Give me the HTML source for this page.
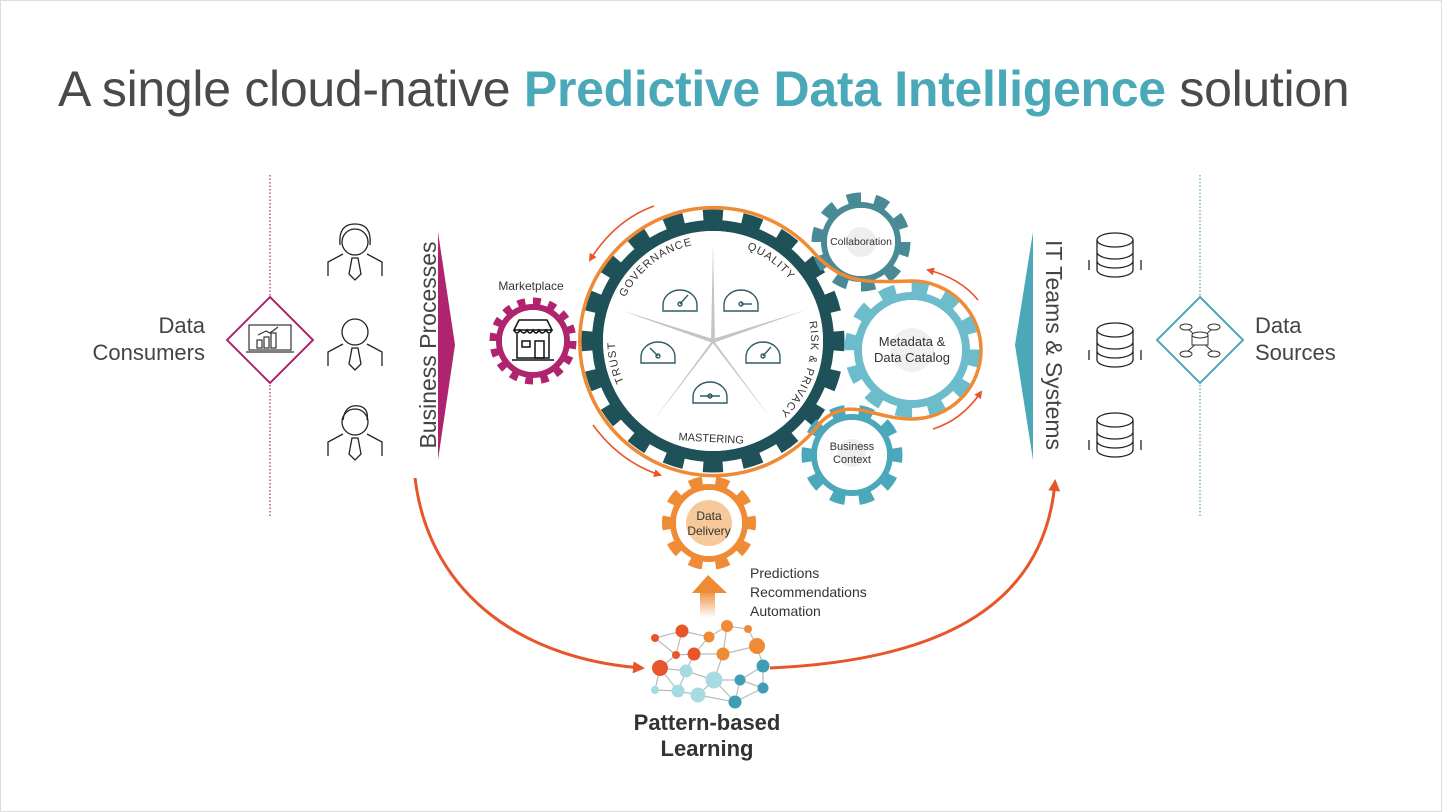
<!DOCTYPE html>
<html><head><meta charset="utf-8"><style>
html,body{margin:0;padding:0;background:#fff;}
svg{display:block;font-family:"Liberation Sans",sans-serif;}
</style></head><body>
<svg width="1442" height="812" viewBox="0 0 1442 812" xmlns="http://www.w3.org/2000/svg">
<defs>
<marker id="ah" markerWidth="8" markerHeight="8" refX="6" refY="4" orient="auto" markerUnits="userSpaceOnUse"><path d="M0,0 L8,4 L0,8 z" fill="#e8552a"/></marker>
<marker id="ah2" markerWidth="12" markerHeight="12" refX="9" refY="6" orient="auto" markerUnits="userSpaceOnUse"><path d="M0,0 L12,6 L0,12 z" fill="#e8552a"/></marker>
<linearGradient id="ug" x1="0" y1="1" x2="0" y2="0"><stop offset="0" stop-color="#ef8a35" stop-opacity="0"/><stop offset="1" stop-color="#ef8a35"/></linearGradient>
<path id="ring" d="M615,341 A98,98 0 1 1 811,341 A98,98 0 1 1 615,341"/>
</defs>
<rect x="0.5" y="0.5" width="1441" height="811" fill="#fff" stroke="#ddd"/>
<text x="58" y="106" font-size="50" fill="#4a4a4a" letter-spacing="-0.3">A single cloud-native <tspan fill="#4aa8b8" font-weight="bold">Predictive Data Intelligence</tspan> solution</text>

<!-- left side -->
<line x1="270" y1="175" x2="270" y2="518" stroke="#b0246f" stroke-width="1.2" stroke-dasharray="1.5 2"/>
<polygon points="270,297 313,340 270,383 227,340" fill="#fff" stroke="#b0246f" stroke-width="2"/>
<g fill="none" stroke="#333" stroke-width="1.2"><rect x="249" y="325" width="42" height="25"/><line x1="246" y1="352" x2="294" y2="352"/><rect x="257" y="340" width="5" height="8"/><rect x="264" y="337" width="5" height="11"/><rect x="271" y="333" width="5" height="15"/><polyline points="258,335 266,331 270,333 278,327"/></g>
<text x="205" y="333" font-size="22" fill="#444" text-anchor="end">Data</text>
<text x="205" y="360" font-size="22" fill="#444" text-anchor="end">Consumers</text>
<g fill="none" stroke="#222" stroke-width="1.3">
<g transform="translate(355,250)"><circle cx="0" cy="-8" r="13"/><path d="M-15,-5 Q-17,-26 0,-26 Q17,-26 15,-5"/><path d="M-27,26 V12 L-12,4 M27,26 V12 L12,4"/><path d="M-3,8 L3,8 L6,24 L0,30 L-6,24 Z"/></g>
<g transform="translate(355,340)"><circle cx="0" cy="-8" r="13"/><path d="M-27,26 V12 L-12,4 M27,26 V12 L12,4"/><path d="M-3,8 L3,8 L6,24 L0,30 L-6,24 Z"/></g>
<g transform="translate(355,430)"><circle cx="0" cy="-8" r="13"/><path d="M-12,-10 Q-10,-26 4,-24 Q14,-22 12,-10"/><path d="M-27,26 V12 L-12,4 M27,26 V12 L12,4"/><path d="M-3,8 L3,8 L6,24 L0,30 L-6,24 Z"/></g>
</g>
<text transform="translate(436,345) rotate(-90)" font-size="23" fill="#444" text-anchor="middle">Business Processes</text>
<polygon points="438,232 455,345 438,460" fill="#b0246f"/>

<!-- right side -->
<polygon points="1033,232 1015,345 1033,460" fill="#4aa8b8"/>
<text transform="translate(1046,345) rotate(90)" font-size="23" fill="#444" text-anchor="middle">IT Teams &amp; Systems</text>
<g fill="none" stroke="#222" stroke-width="1.3">
<g transform="translate(1115,255)"><ellipse cx="0" cy="-15" rx="18" ry="7"/><path d="M-18,-15 V15 A18,7 0 0 0 18,15 V-15 M-18,-3 A18,7 0 0 0 18,-3 M-18,6 A18,7 0 0 0 18,6"/><path d="M-26,5 V15 M26,5 V15"/></g>
<g transform="translate(1115,345)"><ellipse cx="0" cy="-15" rx="18" ry="7"/><path d="M-18,-15 V15 A18,7 0 0 0 18,15 V-15 M-18,-3 A18,7 0 0 0 18,-3 M-18,6 A18,7 0 0 0 18,6"/><path d="M-26,5 V15 M26,5 V15"/></g>
<g transform="translate(1115,435)"><ellipse cx="0" cy="-15" rx="18" ry="7"/><path d="M-18,-15 V15 A18,7 0 0 0 18,15 V-15 M-18,-3 A18,7 0 0 0 18,-3 M-18,6 A18,7 0 0 0 18,6"/><path d="M-26,5 V15 M26,5 V15"/></g>
</g>
<line x1="1200" y1="175" x2="1200" y2="518" stroke="#4aa8b8" stroke-width="1.2" stroke-dasharray="1.5 2"/>
<polygon points="1200,297 1243,340 1200,383 1157,340" fill="#fff" stroke="#4aa8b8" stroke-width="2"/>
<g fill="#fff" stroke="#333" stroke-width="1"><path d="M1187,328 L1213,352 M1213,328 L1187,352"/><ellipse cx="1186" cy="327" rx="6" ry="3"/><ellipse cx="1214" cy="327" rx="6" ry="3"/><ellipse cx="1186" cy="354" rx="6" ry="3"/><ellipse cx="1214" cy="354" rx="6" ry="3"/><rect x="1192" y="335" width="16" height="10"/><ellipse cx="1200" cy="335" rx="8" ry="3"/></g>
<text x="1255" y="333" font-size="22" fill="#444">Data</text>
<text x="1255" y="360" font-size="22" fill="#444">Sources</text>

<!-- big arcs -->
<path d="M415,478 C430,600 530,660 642,668" fill="none" stroke="#e8552a" stroke-width="3" marker-end="url(#ah2)"/>
<path d="M770,668 C950,660 1045,600 1055,482" fill="none" stroke="#e8552a" stroke-width="3" marker-end="url(#ah2)"/>

<!-- main gear -->
<circle cx="713" cy="341" r="115.5" fill="none" stroke="#1f5158" stroke-width="11"/>
<circle cx="713" cy="341" r="126" fill="none" stroke="#1f5158" stroke-width="11" pathLength="100" stroke-dasharray="2.5 2.5" stroke-dashoffset="1.25"/>
<circle cx="713" cy="341" r="110" fill="#fff"/>
<g fill="#c4c4c4">
<polygon points="711,341 713,244 715,341"/>
<polygon points="713,339 806,310 713,343"/>
<polygon points="713,339 620,310 713,343"/>
<polygon points="712,341 654,420 714,342"/>
<polygon points="712,342 772,420 714,341"/>
</g>
<g fill="none" stroke="#2d5d63" stroke-width="1.4">
<g transform="translate(680,300)"><path d="M-17,11 V5 A17,15 0 0 1 17,5 V11 Z"/><line x1="0" y1="4" x2="8" y2="-5"/><circle cx="0" cy="4" r="2"/></g>
<g transform="translate(741,300)"><path d="M-17,11 V5 A17,15 0 0 1 17,5 V11 Z"/><line x1="0" y1="4" x2="11" y2="4"/><circle cx="0" cy="4" r="2"/></g>
<g transform="translate(658,352)"><path d="M-17,11 V5 A17,15 0 0 1 17,5 V11 Z"/><line x1="0" y1="4" x2="-8" y2="-4"/><circle cx="0" cy="4" r="2"/></g>
<g transform="translate(763,352)"><path d="M-17,11 V5 A17,15 0 0 1 17,5 V11 Z"/><line x1="0" y1="4" x2="8" y2="-5"/><circle cx="0" cy="4" r="2"/></g>
<g transform="translate(710,392)"><path d="M-17,11 V5 A17,15 0 0 1 17,5 V11 Z"/><line x1="-10" y1="4" x2="10" y2="4"/><circle cx="0" cy="4" r="2"/></g>
</g>
<g font-size="11" fill="#333" letter-spacing="1">
<text><textPath href="#ring" startOffset="14.5%" text-anchor="middle">GOVERNANCE</textPath></text>
<text><textPath href="#ring" startOffset="35%" text-anchor="middle">QUALITY</textPath></text>
<text><textPath href="#ring" startOffset="55%" text-anchor="middle">RISK &amp; PRIVACY</textPath></text>
<text><textPath href="#ring" startOffset="96.5%" text-anchor="middle">TRUST</textPath></text>
</g>
<text x="711" y="442" font-size="11" fill="#333" text-anchor="middle" transform="rotate(3 711 442)">MASTERING</text>

<!-- collaboration -->
<circle cx="861" cy="242" r="37" fill="none" stroke="#4a8a97" stroke-width="6"/>
<circle cx="861" cy="242" r="44.5" fill="none" stroke="#4a8a97" stroke-width="10" pathLength="100" stroke-dasharray="5 5"/>
<circle cx="861" cy="242" r="34" fill="#fff"/><circle cx="861" cy="242" r="15" fill="#eee"/>
<text x="861" y="245" font-size="10.5" fill="#333" text-anchor="middle">Collaboration</text>
<!-- business context -->
<circle cx="852" cy="455" r="38" fill="none" stroke="#4ba8bb" stroke-width="6"/>
<circle cx="852" cy="455" r="45.5" fill="none" stroke="#4ba8bb" stroke-width="10" pathLength="100" stroke-dasharray="5 5" stroke-dashoffset="2.5"/>
<circle cx="852" cy="455" r="35" fill="#fff"/><circle cx="852" cy="453" r="14" fill="#eee"/>
<text x="852" y="450" font-size="11" fill="#333" text-anchor="middle">Business</text>
<text x="852" y="463" font-size="11" fill="#333" text-anchor="middle">Context</text>
<!-- orange contour -->
<path d="M816,255 C845,285 868,282 912,281 A69,69 0 0 1 912,419 C872,419 850,395 821,422 A134,134 0 1 1 816,255 Z" fill="none" stroke="#ef8a35" stroke-width="3.5"/>
<!-- metadata -->
<circle cx="912" cy="350" r="54" fill="none" stroke="#6dbccb" stroke-width="8"/>
<circle cx="912" cy="350" r="62.5" fill="none" stroke="#6dbccb" stroke-width="10" pathLength="100" stroke-dasharray="4.1667 4.1667"/>
<circle cx="912" cy="350" r="50" fill="#fff"/><circle cx="912" cy="350" r="22" fill="#f0f0f0"/>
<text x="912" y="346" font-size="13" fill="#333" text-anchor="middle">Metadata &amp;</text>
<text x="912" y="362" font-size="13" fill="#333" text-anchor="middle">Data Catalog</text>
<!-- marketplace -->
<circle cx="533" cy="341" r="34" fill="none" stroke="#b0246f" stroke-width="6"/>
<circle cx="533" cy="341" r="40" fill="none" stroke="#b0246f" stroke-width="7" pathLength="100" stroke-dasharray="3.125 3.125"/>
<circle cx="533" cy="341" r="31" fill="#fff"/>
<g fill="none" stroke="#111" stroke-width="1.5"><path d="M514,330 L519,320 H547 L552,330 Z"/><path d="M514,330 Q517,336 520,330 Q524,336 527,330 Q530,336 533,330 Q536,336 539,330 Q542,336 546,330 Q549,336 552,330"/><path d="M517,334 V358 H549 V334"/><rect x="522" y="341" width="8" height="6"/><rect x="535" y="341" width="9" height="17"/><line x1="512" y1="360" x2="554" y2="360"/></g>
<text x="531" y="290" font-size="12" fill="#333" text-anchor="middle">Marketplace</text>
<!-- data delivery -->
<circle cx="709" cy="523" r="36" fill="none" stroke="#ef8a35" stroke-width="6"/>
<circle cx="709" cy="523" r="42.5" fill="none" stroke="#ef8a35" stroke-width="9" pathLength="100" stroke-dasharray="5 5" stroke-dashoffset="2.5"/>
<circle cx="709" cy="523" r="33" fill="#fff"/><circle cx="709" cy="523" r="23" fill="#f6c99a"/>
<text x="709" y="520" font-size="12" fill="#333" text-anchor="middle">Data</text>
<text x="709" y="535" font-size="12" fill="#333" text-anchor="middle">Delivery</text>

<!-- small arrows -->
<g fill="none" stroke="#e8552a" stroke-width="1.6">
<path d="M654,206 Q615,220 590,260" marker-end="url(#ah)"/>
<path d="M593,425 Q620,462 660,475" marker-end="url(#ah)"/>
<path d="M978,300 Q960,278 928,270" marker-end="url(#ah)"/>
<path d="M933,429 Q962,420 981,392" marker-end="url(#ah)"/>
</g>

<!-- up arrow -->
<rect x="700" y="590" width="15" height="28" fill="url(#ug)"/>
<polygon points="692,593 708,575 727,593" fill="#ef8a35"/>
<text font-size="14" fill="#333"><tspan x="750" y="578">Predictions</tspan><tspan x="750" y="597">Recommendations</tspan><tspan x="750" y="616">Automation</tspan></text>

<!-- network -->
<g stroke="#bbb" stroke-width="1.2" fill="none">
<path fill="none" d="M655,638 L682,631 L709,637 L727,626 L748,629 L757,646 M682,631 L676,655 L694,654 L709,637 M655,638 L676,655 L660,668 L655,690 M694,654 L723,654 L727,626 M723,654 L757,646 L763,666 L763,688 M660,668 L686,671 L694,654 M686,671 L714,680 L723,654 M714,680 L740,680 L763,666 M740,680 L763,688 L735,702 L698,695 L714,680 M655,690 L678,691 L686,671 M678,691 L698,695 M740,680 L735,702 M714,680 L735,702 M660,668 L678,691"/>
</g>
<g>
<circle cx="655" cy="638" r="4" fill="#e8552a"/><circle cx="682" cy="631" r="6.5" fill="#e8552a"/><circle cx="709" cy="637" r="5.5" fill="#ef8a35"/><circle cx="727" cy="626" r="6" fill="#ef8a35"/><circle cx="748" cy="629" r="4" fill="#ef8a35"/><circle cx="757" cy="646" r="8" fill="#ef8a35"/>
<circle cx="676" cy="655" r="4" fill="#e8552a"/><circle cx="694" cy="654" r="6.5" fill="#e8552a"/><circle cx="723" cy="654" r="6.5" fill="#ef8a35"/>
<circle cx="660" cy="668" r="8" fill="#e8552a"/><circle cx="686" cy="671" r="6.5" fill="#a6dbe2"/><circle cx="714" cy="680" r="8.5" fill="#a6dbe2"/><circle cx="740" cy="680" r="5.5" fill="#3f9fb2"/><circle cx="763" cy="666" r="6.5" fill="#3f9fb2"/><circle cx="763" cy="688" r="5.5" fill="#3f9fb2"/>
<circle cx="655" cy="690" r="4" fill="#a6dbe2"/><circle cx="678" cy="691" r="6.5" fill="#a6dbe2"/><circle cx="698" cy="695" r="7.5" fill="#a6dbe2"/><circle cx="735" cy="702" r="6.5" fill="#3f9fb2"/>
</g>
<text x="707" y="730" font-size="22" font-weight="bold" fill="#333" text-anchor="middle">Pattern-based</text>
<text x="707" y="756" font-size="22" font-weight="bold" fill="#333" text-anchor="middle">Learning</text>
</svg>
</body></html>
